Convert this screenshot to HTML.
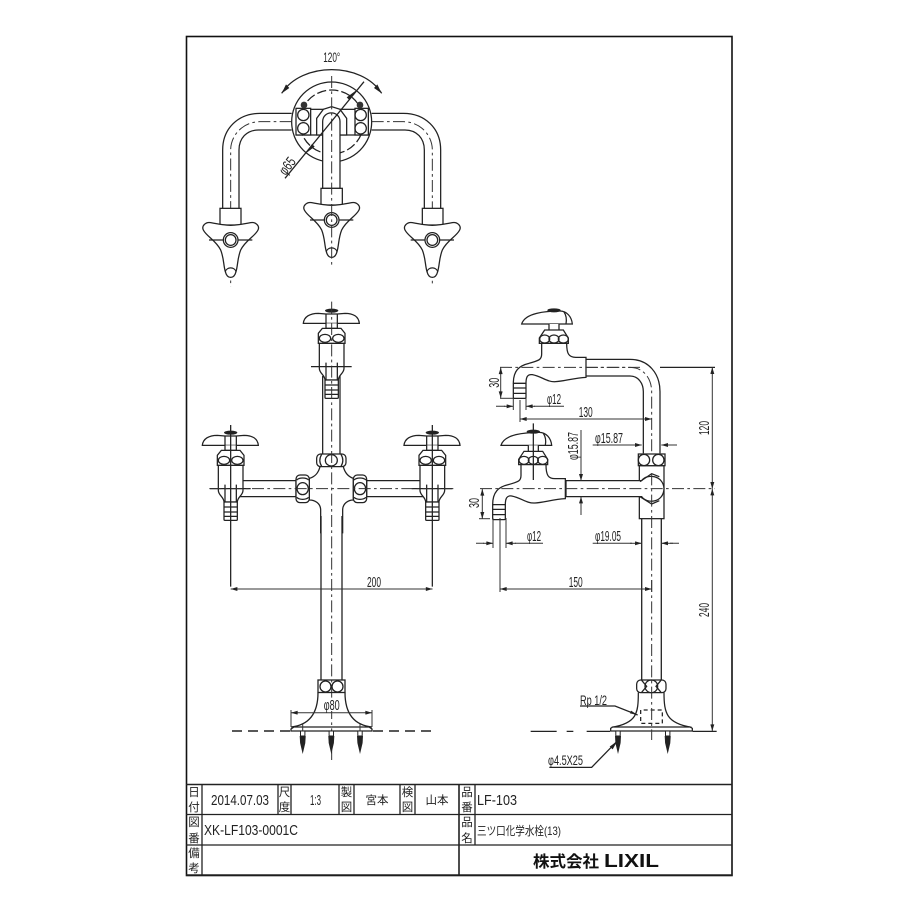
<!DOCTYPE html>
<html><head><meta charset="utf-8"><style>
html,body{margin:0;padding:0;background:#fff}
svg{display:block}
text{font-family:"Liberation Sans","Noto Sans CJK JP",sans-serif;fill:#222}
.z{fill:none;stroke:#222;stroke-width:3.8}
.w{fill:#fff}
.c{fill:none;stroke:#333;stroke-width:3;stroke-dasharray:36 10 8 10}
.r{fill:none;stroke:#222;stroke-width:1.3}
.d{fill:none;stroke:#333;stroke-width:1}
.k{fill:none;stroke:#222;stroke-width:1.6}
.l{font-size:14.5px;text-anchor:middle}
</style></head><body>
<svg xmlns="http://www.w3.org/2000/svg" width="900" height="900" viewBox="0 0 900 900">
<defs>
<marker id="a" viewBox="0 0 10 6" refX="10" refY="3" markerWidth="9" markerHeight="4" markerUnits="userSpaceOnUse" orient="auto-start-reverse"><path d="M0 0L10 3L0 6Z" fill="#222"/></marker>
<g id="h">
<path class="z w" d="M-82,-30C-88,-42-75,-55-60,-52C-35,-47-15,-44 0,-44C15,-44 35,-47 60,-52C75,-55 88,-42 82,-30C72,-10 45,0 30,30C20,55 22,75 16,95C10,118-10,118-16,95C-22,75-20,55-30,30C-45,0-72,-10-82,-30Z"/>
<path class="z" d="M-16,95C-12,80 12,80 16,95M-65,0H-22M22,0H65"/>
<circle class="z w" r="22" stroke-width="5"/><circle class="z" r="16"/>
</g>
<g id="v">
<path class="z w" d="M-85,-130C-83,-150-65,-160-40,-160L-17,-158L17,-158L40,-160C65,-160 81,-150 83,-130Z"/>
<ellipse cx="0" cy="-168" rx="20" ry="6" fill="#222"/>
<path class="z w" d="M-17,-130V-115H17V-130"/>
<path class="z" d="M-17,-158V-130M17,-158V-130"/>
<path class="z w" d="M-40,-100L-28,-115H28L40,-100V-70H-40Z"/>
<ellipse class="z" cx="-20" cy="-85" rx="17" ry="12"/><ellipse class="z" cx="20" cy="-85" rx="17" ry="12"/>
<path class="z w" d="M-37,-70V5C-37,20-20,25-20,40H20C20,25 37,20 37,5V-70Z"/>
<rect class="z w" x="-20" y="40" width="40" height="55" rx="3"/>
<path class="z" d="M-20,55H20M-20,70H20M-20,83H20M-17,-12V40M17,-12V40M-62,0H60"/>
</g>
<g id="s">
<path class="z w" d="M-97,-130C-92,-147-72,-157-52,-162C-32,-167-12,-169 18,-169C38,-169 53,-152 55,-130Z"/>
<path class="z" d="M30,-166C38,-155 38,-142 36,-130"/>
<ellipse cx="0" cy="-171" rx="20" ry="6" fill="#222"/>
<path class="z w" d="M-15,-130V-110H15V-130"/>
<path class="z w" d="M-44,-88L-28,-112H28L43,-88V-72H-44Z"/>
<ellipse class="z" cx="-28" cy="-85" rx="15" ry="12"/><ellipse class="z" cx="0" cy="-85" rx="15" ry="12"/><ellipse class="z" cx="28" cy="-85" rx="15" ry="12"/>
<path class="z w" d="M-37,-72V-40C-37,-20-50,-20-75,-12C-105,-5-122,10-122,48H-84C-84,30-80,20-65,22C-35,28-20,45 5,43C30,42 60,32 96,30V-30H65C45,-30 38,-40 38,-72Z"/>
<rect class="z w" x="-122" y="48" width="38" height="45" rx="3"/>
<path class="z" d="M-122,62H-84M-122,78H-84"/>
</g>
<g id="t"><rect x="-2.2" y="0" width="4.4" height="5" fill="#fff" stroke="#222" stroke-width="1"/><path d="M-3,5H3L2.6,12L0,23L-2.6,12Z" fill="#222"/></g>
</defs>
<rect width="900" height="900" fill="#fff"/>

<!-- TOP VIEW -->
<g transform="translate(190,40) scale(.33333)">
<circle class="z" cx="425" cy="246" r="120"/>
<circle class="z" cx="425" cy="246" r="96" stroke-dasharray="28 9"/>
<path class="z w" d="M305,220H210C145,220 98,265 98,330V505M147,505V330C147,295 170,270 205,270H305"/>
<path class="z w" d="M545,220H640C705,220 752,265 752,330V505M703,505V330C703,295 680,270 645,270H545"/>
<path class="c" d="M305,245H210C160,245 122,285 122,330V740M545,245H640C690,245 727,285 727,330V740"/>
<rect class="z w" x="320" y="208" width="215" height="77"/>
<rect class="z w" x="318" y="205" width="44" height="80"/><rect class="z w" x="495" y="205" width="40" height="80"/>
<circle class="z" cx="340" cy="225" r="17"/><circle class="z" cx="340" cy="265" r="17"/><circle class="z" cx="512" cy="225" r="17"/><circle class="z" cx="512" cy="265" r="17"/>
<circle cx="342" cy="195" r="10" fill="#333"/><circle cx="510" cy="195" r="10" fill="#333"/>
<path class="z w" d="M380,285V235L400,208L425,200L450,208L470,235V285Z"/>
<path class="z w" d="M398,445V245C398,210 450,210 450,245V445Z"/>
<rect class="z w" x="393" y="445" width="64" height="50"/><rect class="z w" x="90" y="505" width="63" height="50"/><rect class="z w" x="697" y="505" width="62" height="50"/>
<use href="#h" x="122" y="600"/><use href="#h" x="425" y="540"/><use href="#h" x="727" y="600"/>
<path class="c" d="M425,108V680"/>
<path class="z" d="M285,415L522,125" stroke-width="3"/>
<path class="z" d="M275,160C335,65 515,65 575,160" stroke-width="3"/>
<path d="M275,160L288,133L298,144ZM575,160L552,144L562,133ZM345,342L366,312L374,320ZM500,150L478,180L470,172Z" fill="#222"/>
</g>
<text class="l" transform="translate(331.7,62)" textLength="17" lengthAdjust="spacingAndGlyphs" style="font-size:14px">120°</text>
<text class="l" transform="translate(291,169) rotate(-52)" textLength="18" lengthAdjust="spacingAndGlyphs">φ65</text>

<!-- FRONT VIEW -->
<g transform="translate(190,300) scale(.33333)">
<rect class="z w" x="398" y="230" width="52" height="240"/>
<path class="z w" d="M140,542H318V590H140ZM530,542H710V590H530Z"/>
<path class="z w" d="M390,500C385,520 375,530 358,535V600C375,600 392,610 392,630V700M458,700V630C458,610 475,600 490,600V535C475,530 465,520 460,500"/>
<rect class="z w" x="380" y="462" width="88" height="38" rx="12"/>
<ellipse class="z" cx="424" cy="481" rx="18" ry="17"/><path class="z" d="M395,463C388,475 388,488 395,499M453,463C460,475 460,488 453,499"/>
<rect class="z w" x="318" y="525" width="40" height="83" rx="12"/><rect class="z w" x="490" y="525" width="40" height="83" rx="12"/>
<ellipse class="z" cx="338" cy="566" rx="17" ry="18"/><ellipse class="z" cx="510" cy="566" rx="17" ry="18"/>
<path class="z" d="M320,540C328,532 348,532 356,540M320,592C328,600 348,600 356,592M492,540C500,532 520,532 528,540M492,592C500,600 520,600 528,592"/>
<use href="#v" x="425" y="200"/><use href="#v" x="122" y="566"/><use href="#v" x="727" y="566"/>
<path class="c" d="M58,566H790"/>
<path class="c" d="M425,5V1380"/>
<path class="z" stroke-width="3" d="M122,375V860M727,375V860"/>
</g>
<path class="r" d="M321,516V680M342,516V680"/>
<rect class="r" x="318" y="680" width="27" height="12.5" fill="#fff"/>
<circle class="r" cx="325.5" cy="686.5" r="5.5"/><circle class="r" cx="337.5" cy="686.5" r="5.5"/>
<path class="r" d="M318,692.5C318,712 310,725 291,727M345,692.5C345,712 353,725 372,727"/>
<path class="r" fill="#fff" d="M291,731V729L294,727H369L372,729V731Z"/>
<path class="k" stroke-dasharray="10 6" d="M232,731H290M373,731H432"/>
<use href="#t" x="302.7" y="731"/><use href="#t" x="331.3" y="731"/><use href="#t" x="360" y="731"/>
<path class="d" d="M291,710V727M372,710V727M302.7,724V731M360,724V731"/>
<path class="d" marker-start="url(#a)" marker-end="url(#a)" d="M291,712.7H372"/>
<rect x="323" y="698" width="18" height="13" fill="#fff"/>
<text class="l" x="331.7" y="710" textLength="16" lengthAdjust="spacingAndGlyphs">φ80</text>
<path class="d" marker-start="url(#a)" marker-end="url(#a)" d="M230.7,589H432.5"/>
<text class="l" x="374" y="587" textLength="14" lengthAdjust="spacingAndGlyphs">200</text>

<!-- SIDE VIEW -->
<g transform="translate(460,300) scale(.33333)">
<path class="z" d="M378,178H510C565,178 600,220 600,275V460M378,228H510C535,228 550,250 550,275V460"/>
<path class="c" d="M378,202H510C550,202 575,235 575,275V650"/>
<use href="#s" x="282" y="202"/>
<rect class="z w" x="538" y="497" width="74" height="159"/>
<path class="z w" d="M318,542H545C560,520 610,525 612,566C610,610 560,612 545,590H318Z"/>
<path class="z" d="M540,545L575,521L598,530M540,590L575,612L598,602"/>
<rect class="z w" x="535" y="462" width="80" height="35"/>
<circle class="z" cx="552" cy="480" r="17"/><circle class="z" cx="595" cy="480" r="17"/>
<use href="#s" x="220" y="566"/>
<path class="c" d="M60,566H765"/>
<path class="c" d="M120,202H550"/>
<path class="c" d="M575,520V880"/>
<path class="z" stroke-width="3" d="M600,202H765M220,370V540"/>
</g>
<path class="r" d="M641.7,518.7V680M661.3,518.7V680"/>
<g transform="translate(460,540) scale(.33333)">
<rect class="z w" x="530" y="420" width="88" height="38" rx="12"/>
<circle class="z" cx="574" cy="439" r="19"/><path class="z" d="M545,421L560,439L545,457M603,421L588,439L603,457"/>
<path class="z" d="M535,458C535,520 530,550 455,562M612,458C612,520 620,550 695,562"/>
<path class="z w" d="M452,573V565L458,561H690L697,565V573Z"/>
<path class="z" stroke-width="5" stroke-dasharray="12 9" d="M542,510V550H607V510H542"/>
<path class="z" stroke-width="4" d="M212,574H290M320,574H340M380,574H450M698,574H770"/>
<path class="c" d="M575,120V600"/>
<path class="z" stroke-width="3" d="M360,498H465L533,525"/>
<path class="z" stroke-width="3" d="M268,682H395L470,605"/>
<path d="M533,525L510,520L513,512ZM472,603L458,628L449,620Z" fill="#222"/>
</g>
<use href="#t" x="618" y="731"/><use href="#t" x="667.7" y="731"/>

<text x="580" y="705" textLength="27" lengthAdjust="spacingAndGlyphs" style="font-size:14px">Rp 1/2</text>
<text x="548" y="765" textLength="35" lengthAdjust="spacingAndGlyphs" style="font-size:14px">φ4.5X25</text>

<path class="d" d="M500,398.3H513"/>
<path class="d" marker-start="url(#a)" marker-end="url(#a)" d="M500.7,367.5V398"/>
<text class="l" transform="translate(499,382.7) rotate(-90)" textLength="10" lengthAdjust="spacingAndGlyphs">30</text>
<path class="d" d="M513.3,398V410M526,398V410M496,406.3H505M534,406.3H564"/>
<path class="d" marker-end="url(#a)" d="M504,406.3H513.3"/><path class="d" marker-end="url(#a)" d="M535,406.3H526"/>
<text class="l" x="554" y="404" textLength="14" lengthAdjust="spacingAndGlyphs">φ12</text>
<path class="d" d="M520,400V422"/>
<path class="d" marker-start="url(#a)" marker-end="url(#a)" d="M520,419H651.7"/>
<text class="l" x="585.7" y="417" textLength="14" lengthAdjust="spacingAndGlyphs">130</text>
<path class="d" d="M592.7,445H632M670,445H677"/>
<path class="d" marker-end="url(#a)" d="M630,445H641.7"/><path class="d" marker-end="url(#a)" d="M673,445H661.3"/>
<text x="595" y="443" textLength="28" lengthAdjust="spacingAndGlyphs" style="font-size:14.5px">φ15.87</text>
<path class="d" d="M581,430V472M581,505V515"/>
<path class="d" marker-end="url(#a)" d="M581,470V480.7"/><path class="d" marker-end="url(#a)" d="M581,508V496.7"/>
<text class="l" transform="translate(578,446) rotate(-90)" textLength="28" lengthAdjust="spacingAndGlyphs">φ15.87</text>
<path class="d" d="M479,518.7H490"/>
<path class="d" marker-start="url(#a)" marker-end="url(#a)" d="M482.3,489V518.7"/>
<text class="l" transform="translate(479,503) rotate(-90)" textLength="10" lengthAdjust="spacingAndGlyphs">30</text>
<path class="d" d="M493,518V548M506,518V548M476,543.3H484M515,543.3H543M500,518V592"/>
<path class="d" marker-end="url(#a)" d="M483,543.3H493"/><path class="d" marker-end="url(#a)" d="M516,543.3H506"/>
<text class="l" x="534" y="541" textLength="14" lengthAdjust="spacingAndGlyphs">φ12</text>
<path class="d" d="M592.7,543.3H632M670,543.3H679"/>
<path class="d" marker-end="url(#a)" d="M630,543.3H641.7"/><path class="d" marker-end="url(#a)" d="M673,543.3H661.3"/>
<text class="l" x="608" y="541" textLength="26" lengthAdjust="spacingAndGlyphs">φ19.05</text>
<path class="d" marker-start="url(#a)" marker-end="url(#a)" d="M500,589H651.7"/>
<text class="l" x="575.7" y="587" textLength="14" lengthAdjust="spacingAndGlyphs">150</text>
<path class="d" marker-start="url(#a)" marker-end="url(#a)" d="M712.3,367.3V488.7"/>
<path class="d" marker-start="url(#a)" marker-end="url(#a)" d="M712.3,488.7V731"/>
<text class="l" transform="translate(709,428) rotate(-90)" textLength="14" lengthAdjust="spacingAndGlyphs">120</text>
<text class="l" transform="translate(709,610) rotate(-90)" textLength="14" lengthAdjust="spacingAndGlyphs">240</text>

<!-- FRAME + TITLE BLOCK -->
<rect x="186.5" y="36.5" width="545.5" height="839" fill="none" stroke="#111" stroke-width="1.6"/>
<path class="k" d="M186,784.5H732M186,875H732M459,784V875"/>
<path class="r" d="M202,784V875M278,784V814.5M291,784V814.5M339,784V814.5M354,784V814.5M400,784V814.5M415,784V814.5M475,784V845M186,814.5H732M186,845H732"/>
<g style="font-size:11.5px;text-anchor:middle">
<text x="194" y="796">日</text><text x="194" y="811">付</text>
<text x="284.5" y="796">尺</text><text x="284.5" y="811">度</text>
<text x="346.5" y="796">製</text><text x="346.5" y="811">図</text>
<text x="407.5" y="796">検</text><text x="407.5" y="811">図</text>
<text x="194" y="826">図</text><text x="194" y="842">番</text>
<text x="194" y="857">備</text><text x="194" y="872">考</text>
<text x="467" y="796">品</text><text x="467" y="811">番</text>
<text x="467" y="826">品</text><text x="467" y="842">名</text>
<text x="377" y="804">宮本</text><text x="437" y="804">山本</text>
</g>
<text x="211" y="805" textLength="58" lengthAdjust="spacingAndGlyphs" style="font-size:15px">2014.07.03</text>
<text x="315.5" y="805" textLength="11" lengthAdjust="spacingAndGlyphs" style="font-size:15px;text-anchor:middle">1:3</text>
<text x="204" y="835" textLength="94" lengthAdjust="spacingAndGlyphs" style="font-size:15px">XK-LF103-0001C</text>
<text x="477" y="805" textLength="40" lengthAdjust="spacingAndGlyphs" style="font-size:15px">LF-103</text>
<text x="477" y="835" textLength="84" lengthAdjust="spacingAndGlyphs" style="font-size:12px">三ツ口化学水栓(13)</text>
<text x="533" y="867" textLength="66" lengthAdjust="spacingAndGlyphs" style="font-size:16px;font-weight:bold;fill:#111">株式会社</text>
<text x="604" y="867" textLength="55" lengthAdjust="spacingAndGlyphs" style="font-size:18px;font-weight:bold;fill:#111">LIXIL</text>
</svg>
</body></html>
